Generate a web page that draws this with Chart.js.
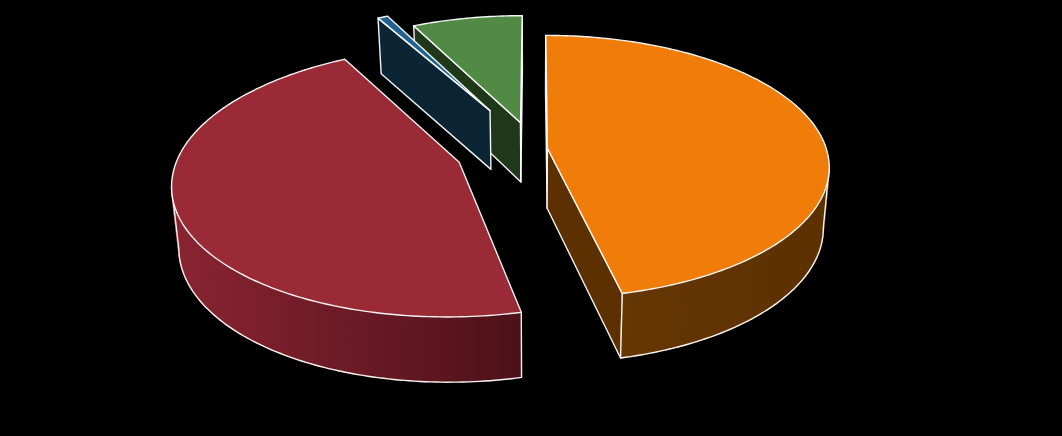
<!DOCTYPE html>
<html>
<head>
<meta charset="utf-8">
<style>
  html, body { margin: 0; padding: 0; background: #000; }
  canvas { display: block; }
</style>
<script src="https://cdn.jsdelivr.net/npm/chart.js@4"></script>
</head>
<body>
<canvas id="pie" width="1062" height="436"></canvas>
<script>
const categories = ['A', 'B', 'C', 'D'];
const values = [46.38, 45.52, 0.7, 7.4];

const topColors = ['#f07d0a', '#9b2a37', '#22628f', '#518a45'];
const explode = [13.5, 79, 98, 60];
// rim wall shading, left to right
const rimLeft = ['#663604', '#8a2431', '#0b2535', '#213b1c'];
const rimRight = ['#5c3000', '#4d1119', '#0b2535', '#213b1c'];
const cutColors = ['#5c3000', '#6e1c27', '#0b2535', '#20381a'];

const tilt = 0.462;       // squash of the circle
const perspective = 0.14;
const depth = 60;
const bottomShrink = 0.98;

function project(arc, u, v, lower) {
  const p = 1 / (1 - perspective * v / arc.outerRadius);
  const shrink = lower ? bottomShrink : 1;
  return {
    x: arc.x + u * p * shrink,
    y: arc.y + tilt * v * p + (lower ? depth * Math.sqrt(p) : 0)
  };
}

function ringPoints(arc, lower) {
  const off = arc.options.offset;
  const mid = (arc.startAngle + arc.endAngle) / 2;
  const ox = Math.cos(mid) * off, oy = Math.sin(mid) * off;
  const pts = [];
  const steps = Math.max(2, Math.ceil((arc.endAngle - arc.startAngle) * 60));
  for (let i = 0; i <= steps; i++) {
    const a = arc.startAngle + (arc.endAngle - arc.startAngle) * i / steps;
    pts.push(project(arc, ox + Math.cos(a) * arc.outerRadius, oy + Math.sin(a) * arc.outerRadius, lower));
  }
  return { pts, apex: project(arc, ox, oy, lower) };
}

function tracePoly(ctx, pts, close) {
  ctx.beginPath();
  pts.forEach((p, i) => i ? ctx.lineTo(p.x, p.y) : ctx.moveTo(p.x, p.y));
  if (close) ctx.closePath();
}

function fillPoly(ctx, pts, fill) {
  tracePoly(ctx, pts, true);
  ctx.fillStyle = fill;
  ctx.fill();
  ctx.stroke();
}

function drawRim(ctx, up, low, i) {
  // only the part of the rim that faces the viewer (x runs backwards there)
  const seen = [];
  for (let k = 0; k + 1 < up.length; k++) {
    if (up[k + 1].x < up[k].x) seen.push(k);
  }
  if (!seen.length) return;
  const first = seen[0], last = seen[seen.length - 1] + 1;
  const grad = ctx.createLinearGradient(up[last].x, 0, up[first].x, 0);
  grad.addColorStop(0, rimLeft[i]);
  grad.addColorStop(1, rimRight[i]);
  ctx.save();
  ctx.fillStyle = grad;
  ctx.strokeStyle = grad;
  seen.forEach(k => {
    tracePoly(ctx, [up[k], up[k + 1], low[k + 1], low[k]], true);
    ctx.fill();
    ctx.stroke();
  });
  ctx.restore();
  const edge = [up[first]];
  for (let k = first; k <= last; k++) edge.push(low[k]);
  edge.push(up[last]);
  tracePoly(ctx, edge, false);
  ctx.stroke();
}

const pie3d = {
  id: 'pie3d',
  beforeDatasetDraw(chart) {
    const ctx = chart.ctx;
    const arcs = chart.getDatasetMeta(0).data;
    ctx.save();
    ctx.strokeStyle = 'rgba(255,255,255,0.95)';
    ctx.lineWidth = 1.4;
    ctx.lineJoin = 'round';
    for (let i = arcs.length - 1; i >= 0; i--) {
      const arc = arcs[i];
      const up = ringPoints(arc, false);
      const low = ringPoints(arc, true);
      const last = up.pts.length - 1;
      // cut faces, skipped when they point away
      if (up.pts[0].x < up.apex.x) {
        fillPoly(ctx, [up.apex, up.pts[0], low.pts[0], low.apex], cutColors[i]);
      }
      if (up.pts[last].x > up.apex.x) {
        fillPoly(ctx, [up.apex, up.pts[last], low.pts[last], low.apex], cutColors[i]);
      }
      drawRim(ctx, up.pts, low.pts, i);
      // top
      fillPoly(ctx, [up.apex].concat(up.pts), arc.options.backgroundColor);
    }
    ctx.restore();
    return false;
  }
};

new Chart(document.getElementById('pie'), {
  type: 'pie',
  data: {
    labels: categories,
    datasets: [{
      data: values,
      backgroundColor: topColors,
      offset: explode,
      borderWidth: 0
    }]
  },
  options: {
    responsive: false,
    animation: false,
    radius: 279,
    layout: { padding: { left: 6, bottom: 138 } },
    plugins: { legend: { display: false }, tooltip: { enabled: false } }
  },
  plugins: [pie3d]
});
</script>
</body>
</html>
